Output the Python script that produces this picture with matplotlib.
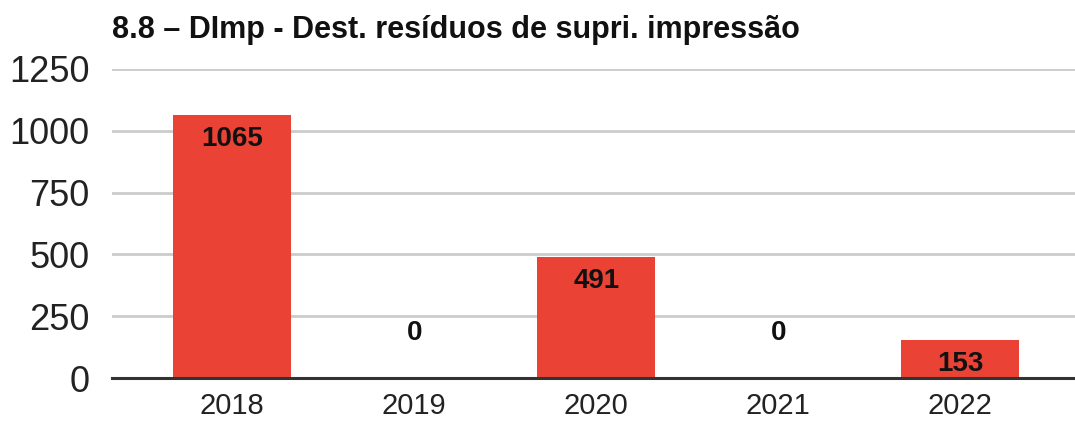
import numpy as np
import matplotlib.pyplot as plt

plt.rcParams['font.family'] = ['Liberation Sans', 'DejaVu Sans']

years = ["2018", "2019", "2020", "2021", "2022"]
values = [1065, 0, 491, 0, 153]
title = "8.8 – DImp - Dest. resíduos de supri. impressão"

W, H = 1075, 421
fig = plt.figure(figsize=(W / 100, H / 100), dpi=100)
ax = fig.add_axes([112 / W, (H - 378) / H, (W - 112) / W, (378 - 69) / H])

x = np.arange(len(years))
ax.bar(x, values, width=0.65, color="#ea4335", zorder=2)

for xi, v in zip(x, values):
    if v > 0:
        ax.annotate(str(v), (xi, v), xytext=(0, -24), textcoords="offset pixels",
                    ha="center", va="center", fontsize=20, fontweight="bold", color="#111111")
    else:
        ax.annotate(str(v), (xi, 0), xytext=(0, 45), textcoords="offset pixels",
                    ha="center", va="center", fontsize=20, fontweight="bold", color="#111111")

ax.set_xlim(-0.66, 4.63)
ax.set_ylim(0, 1250)
ax.set_yticks([0, 250, 500, 750, 1000, 1250])
ax.set_xticks(x)
ax.set_xticklabels(years)
ax.tick_params(axis="y", length=0, pad=16, labelsize=26, labelcolor="#222222")
ax.tick_params(axis="x", length=0, pad=10, labelsize=21, labelcolor="#222222")

ax.grid(axis="y", color="#cccccc", linewidth=2, zorder=0)
ax.set_axisbelow(True)
for s in ["top", "right", "left"]:
    ax.spines[s].set_visible(False)
ax.spines["bottom"].set_color("#333333")
ax.spines["bottom"].set_linewidth(2.2)
ax.spines["bottom"].set_zorder(3)

fig.text(112 / W, 1 - 30 / H, title, fontsize=22, fontweight="bold",
         ha="left", va="center", color="#111111")

fig.savefig("out.png", dpi=100)
